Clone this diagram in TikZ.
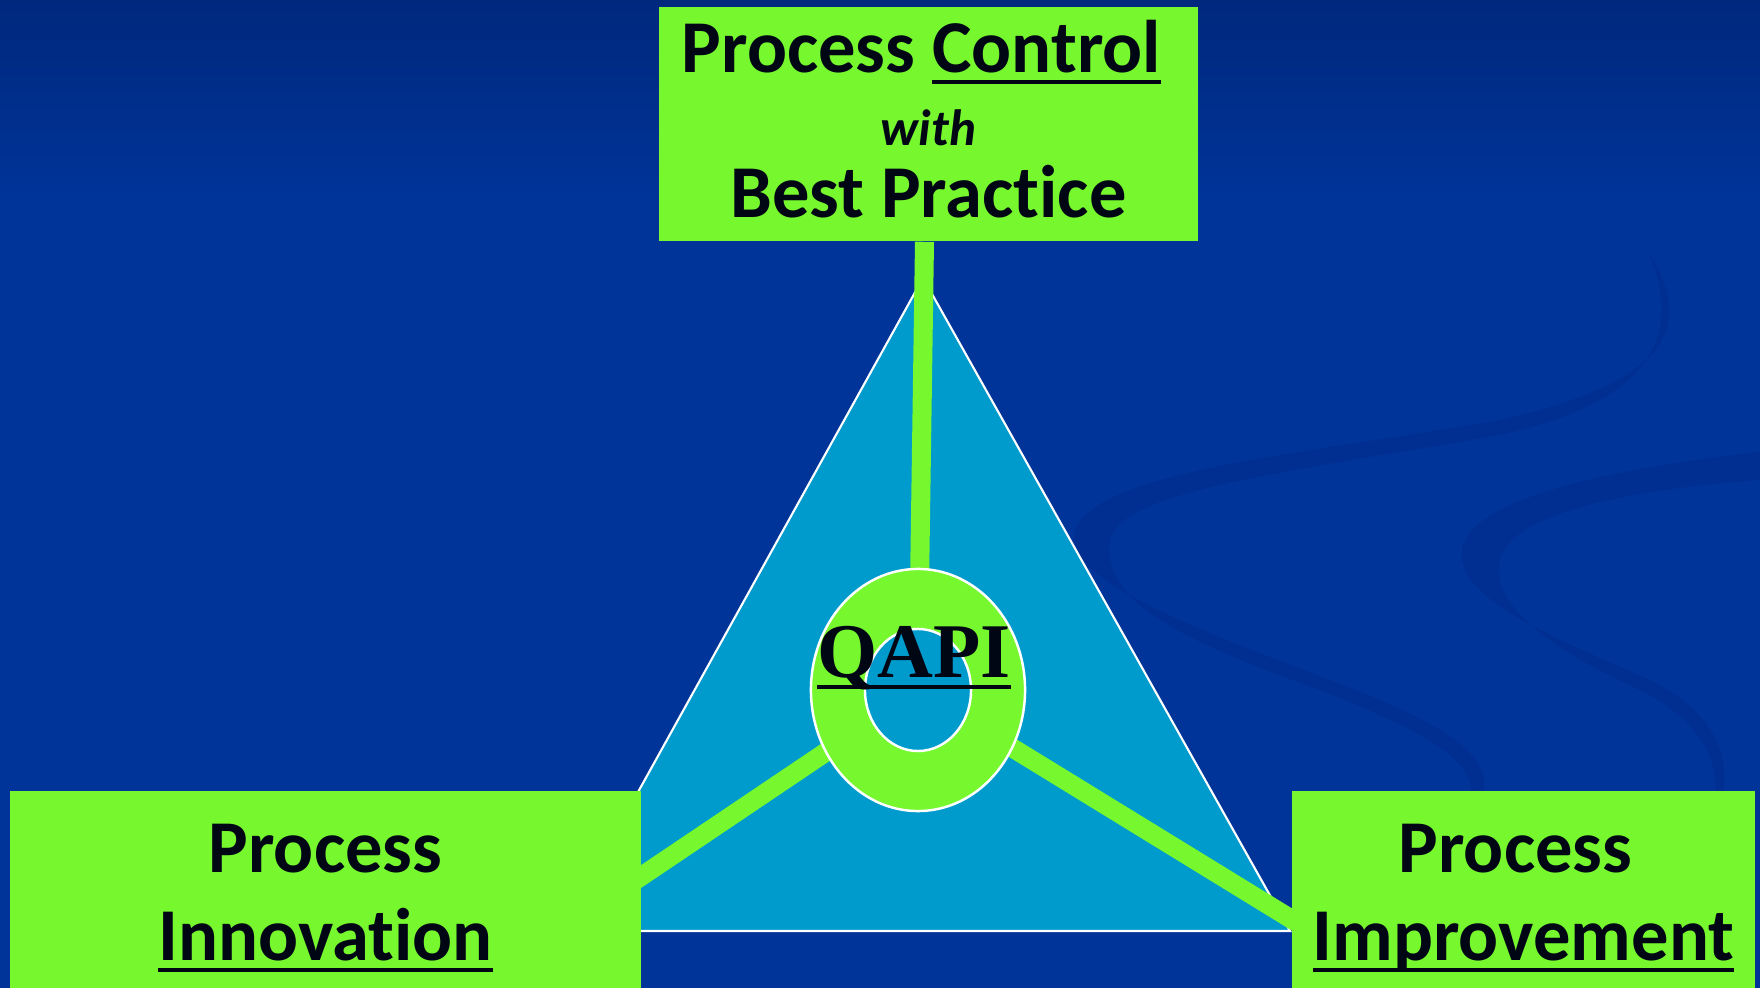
\documentclass[tikz,border=0pt]{standalone}
\usepackage{fontspec}
\setmainfont{Carlito}[Ligatures=NoCommon]
\newfontfamily\qapiFont{Liberation Serif}
\usepackage{tikz}
\usetikzlibrary{calc,shapes.geometric}
\definecolor{bgTopCol}{RGB}{0, 40, 125}
\definecolor{bgCol}{RGB}{0, 52, 153}
\definecolor{swirlCol}{RGB}{0, 47, 145}
\definecolor{triCol}{RGB}{0, 155, 205}
\definecolor{limeCol}{RGB}{118, 247, 46}
\definecolor{inkCol}{RGB}{0, 6, 20}

% heavy underline for the key words
\newcommand{\ulbar}[1]{\leavevmode\setbox0=\hbox{#1}\rlap{\rule[-0.155em]{\wd0}{0.055em}}\box0}

\begin{document}
\begin{tikzpicture}[
    x=0.01cm, y=-0.01cm,
    font=\bfseries\fontsize{21.2}{25}\selectfont,
    % Green Label Box Style
    labelBox/.style={
        rectangle,
        fill=limeCol,
        text=inkCol,
        align=center,
        inner sep=0pt
    },
    % Spoke Line Style
    spoke/.style={
        draw=limeCol,
        line width=0.19cm
    },
    % Ring Style
    ringShape/.style={
        ellipse,
        draw=white,
        line width=0.7pt,
        inner sep=0pt
    }
]

    \useasboundingbox (0,0) rectangle (1760,988);

    % Background with darker top band
    \fill[bgCol] (0,0) rectangle (1760,988);
    \shade[top color=bgTopCol, bottom color=bgCol] (0,0) rectangle (1760,200);

    % Faint swirls on the right
    \fill[swirlCol] (1650,255) .. controls (1690,320) and (1680,380) .. (1500,420)
        .. controls (1300,455) and (1100,470) .. (1075,530)
        .. controls (1060,580) and (1200,630) .. (1330,680)
        .. controls (1450,725) and (1500,760) .. (1480,800)
        -- (1470,800) .. controls (1480,760) and (1420,730) .. (1320,690)
        .. controls (1180,640) and (1100,600) .. (1110,540)
        .. controls (1120,490) and (1300,470) .. (1500,435)
        .. controls (1660,400) and (1680,330) .. cycle;
    \fill[swirlCol] (1760,452) .. controls (1600,470) and (1470,500) .. (1462,550)
        .. controls (1455,600) and (1560,640) .. (1650,680)
        .. controls (1720,715) and (1730,760) .. (1722,800)
        -- (1715,800) .. controls (1720,760) and (1700,720) .. (1640,690)
        .. controls (1540,645) and (1490,600) .. (1500,560)
        .. controls (1510,515) and (1620,490) .. (1760,480) -- cycle;

    % Triangle
    \filldraw[fill=triCol, draw=white, line width=0.6pt]
        (923,278) -- (1290,931) -- (561,931) -- cycle;

    % Corner boxes
    \node[labelBox, minimum width=5.39cm, minimum height=2.34cm] (ctrlBox) at (928.5,124) {
        Process \ulbar{Control}\kern0.14cm\\[-4.3pt]
        {\fontsize{14.5}{18}\selectfont\itshape with}\\[-4.5pt]
        Best Practice\rule[-3pt]{0pt}{0pt}
    };

    \node[labelBox, minimum width=6.31cm, minimum height=2.14cm] (innoBox) at (325.5,898) {
        Process\\
        \ulbar{Innovation}
    };

    \node[labelBox, minimum width=4.63cm, minimum height=2.14cm] (imprBox) at (1523.5,898) {
        Process\kern0.16cm\\
        \ulbar{Improvement}
    };

    % Spokes into the hub
    \coordinate (hub) at (918,690);
    \draw[spoke] ($(ctrlBox.south)+(-4,0)$) -- (hub);
    \draw[spoke, shorten <=-0.08cm] ($(innoBox.east)+(0,-22)$) -- (hub);
    \draw[spoke, shorten <=-0.08cm] ($(imprBox.west)+(0,21)$) -- (hub);

    % Ring in the middle
    \node[ringShape, fill=limeCol, minimum width=2.14cm, minimum height=2.42cm] (qapiRing) at (hub) {};
    \node[ringShape, fill=triCol, minimum width=1.06cm, minimum height=1.22cm] (ringHole) at (hub) {};

    \node[anchor=base, inner sep=0pt, text=inkCol,
        font=\qapiFont\bfseries\fontsize{22}{24}\selectfont] (qapiText) at ($(hub)+(-4,-13)$) {\ulbar{QAPI}};

\end{tikzpicture}
\end{document}
